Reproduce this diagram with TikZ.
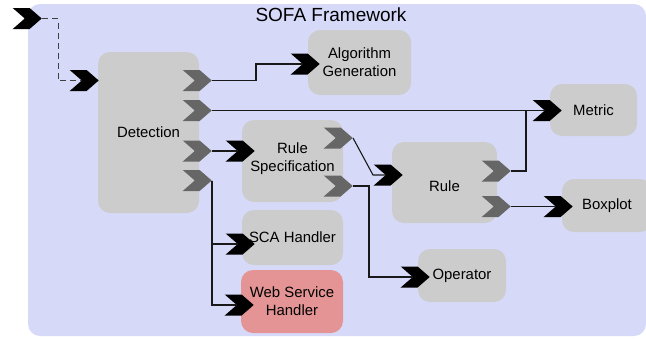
\documentclass[tikz,border=0pt]{standalone}
\usepackage{fontspec}
\setmainfont{Liberation Sans}
\usetikzlibrary{shapes.symbols}
\pgfdeclarelayer{back}
\pgfdeclarelayer{background}
\pgfsetlayers{back,background,main}
\definecolor{framebg}{RGB}{214,218,248}
\definecolor{boxgray}{RGB}{204,204,204}
\definecolor{portgray}{RGB}{102,102,102}
\definecolor{webred}{RGB}{228,148,148}
\begin{document}
\begin{tikzpicture}[x=1pt, y=-1pt,
    box/.style={rectangle, rounded corners=12pt, fill=boxgray, inner sep=0pt,
      align=center, font=\fontsize{14.9}{18}\selectfont},
    port/.style={signal, signal from=west, signal to=east, signal pointer angle=82,
      minimum width=29pt, minimum height=21pt, inner sep=0pt, anchor=east},
    inport/.style={port, fill=black},
    outport/.style={port, fill=portgray},
    wire/.style={line width=1.1pt, draw=black!90}]
    \useasboundingbox (0, 0) rectangle (646, 338);
    \begin{pgfonlayer}{back}
      \fill[framebg, rounded corners=12pt] (28, 4) rectangle (646, 336);
    \end{pgfonlayer}
    \node[font=\fontsize{19}{22}\selectfont] (title) at (331, 15) {SOFA Framework};

    \node[box, minimum width=101pt, minimum height=161pt] (det) at (148.5, 132.5) {Detection};
    \node[box, minimum width=103pt, minimum height=65pt] (alg) at (359.5, 62.5) {Algorithm\\Generation};
    \node[box, minimum width=101pt, minimum height=82pt, text depth=8pt] (spec) at (292.5, 161) {Rule\\Specification};
    \node[box, minimum width=105pt, minimum height=81pt, text height=18pt] (rule) at (444.5, 182.5) {Rule};
    \node[box, minimum width=87pt, minimum height=52pt] (met) at (593.5, 110) {Metric};
    \node[box, minimum width=90pt, minimum height=53pt] (bplot) at (607, 205.5) {Boxplot};
    \node[box, minimum width=101pt, minimum height=55pt] (sca) at (292.5, 237.5) {SCA Handler};
    \node[box, fill=webred, minimum width=102pt, minimum height=63pt] (wsh) at (292, 301.5) {Web Service\\Handler};
    \node[box, minimum width=88pt, minimum height=53pt] (op) at (462, 275.5) {Operator};

    \node[inport] (in0) at (42, 18.5) {};
    \node[inport] (det-in) at (99, 80.5) {};
    \node[outport] (det-o1) at (212, 80.5) {};
    \node[outport] (det-o2) at (212, 110.5) {};
    \node[outport] (det-o3) at (212, 151) {};
    \node[outport] (det-o4) at (212, 180.5) {};
    \node[inport] (alg-in) at (320, 64) {};
    \node[inport] (spec-in) at (255, 151) {};
    \node[outport] (spec-o1) at (353, 138) {};
    \node[outport] (spec-o2) at (353, 186) {};
    \node[inport] (sca-in) at (255, 244) {};
    \node[inport] (wsh-in) at (254, 305) {};
    \node[inport] (rule-in) at (403, 175) {};
    \node[outport] (rule-o1) at (511, 171) {};
    \node[outport] (rule-o2) at (511, 206.5) {};
    \node[inport] (met-in) at (562, 110.5) {};
    \node[inport] (bplot-in) at (573, 206.5) {};
    \node[inport] (op-in) at (430, 277) {};

    \begin{pgfonlayer}{background}
      \draw[line width=1pt, draw=black!75, dash pattern=on 6pt off 4pt] (in0.east) -- ++(16, 0) |- (det-in);
      \draw[wire] (det-o1.east) -- ++(44, 0) |- (alg-in);
      \draw[wire] (det-o2.east) -- (met-in);
      \draw[wire] (det-o3.east) -- (spec-in);
      \draw[wire] (det-o4.east) |- (sca-in);
      \draw[wire] (det-o4.east) |- (wsh-in);
      \draw[wire] (spec-o1.east) -- ++(20, 37) -- (rule-in);
      \draw[wire] (spec-o2.east) -- ++(16, 0) |- (op-in);
      \draw[wire] (rule-o1.east) -- ++(15, 0) |- (met-in);
      \draw[wire] (rule-o2.east) -- (bplot-in);
    \end{pgfonlayer}
  \end{tikzpicture}
\end{document}
